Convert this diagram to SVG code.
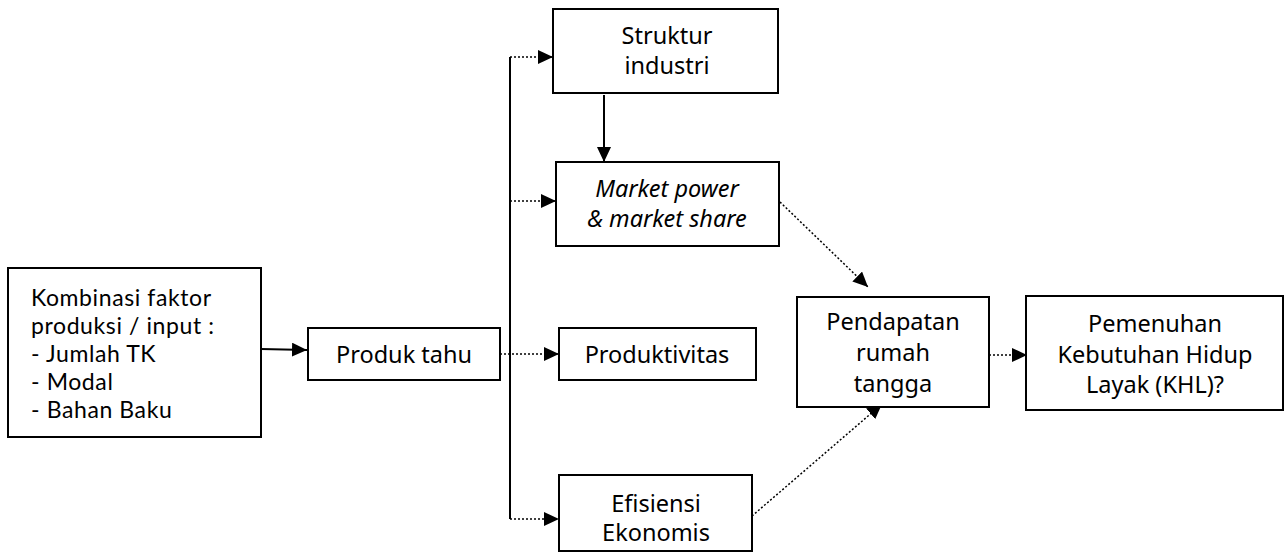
<svg xmlns="http://www.w3.org/2000/svg" width="1288" height="553" viewBox="0 0 1288 553">
<defs>
<marker id="ah" markerWidth="15" markerHeight="14" refX="15" refY="7" orient="auto" markerUnits="userSpaceOnUse">
<path d="M0,0 L15,7 L0,14 Z" fill="#000"/>
</marker>
<style>
.box{fill:#fff;stroke:#000;stroke-width:2}
.t{font-family:"Noto Sans","Open Sans",sans-serif;font-size:23.5px;fill:#000}
.s{font-family:Lato,"Noto Sans",sans-serif;font-size:23px;letter-spacing:0.6px}
.c{text-anchor:middle}
.i{font-style:italic}
.solid{fill:none;stroke:#000;stroke-width:2}
.dot{fill:none;stroke:#000;stroke-width:1.5;stroke-dasharray:2 2}
</style>
</defs>
<g id="connectors">
<line class="solid" x1="510" y1="57" x2="510" y2="519"/>
<line class="solid" x1="261" y1="349" x2="307" y2="350" marker-end="url(#ah)"/>
<line class="solid" x1="604" y1="95" x2="604" y2="162" marker-end="url(#ah)"/>
<line class="dot" x1="510" y1="57" x2="553" y2="57" marker-end="url(#ah)"/>
<line class="dot" x1="510" y1="201" x2="556" y2="201" marker-end="url(#ah)"/>
<line class="dot" x1="500" y1="354" x2="559" y2="354" marker-end="url(#ah)"/>
<line class="dot" x1="510" y1="519" x2="559" y2="519" marker-end="url(#ah)"/>
<line class="dot" x1="780" y1="202" x2="868" y2="287" marker-end="url(#ah)"/>
<line class="dot" x1="752" y1="516" x2="882" y2="404" marker-end="url(#ah)"/>
<line class="dot" x1="989" y1="355" x2="1027" y2="355" marker-end="url(#ah)"/>
</g>
<g id="kombinasi">
<rect class="box" x="8" y="268" width="253" height="169"/>
<text class="t s" x="31" y="306">Kombinasi faktor</text>
<text class="t s" x="31" y="334">produksi / input :</text>
<text class="t s" x="31" y="362">- Jumlah TK</text>
<text class="t s" x="31" y="390">- Modal</text>
<text class="t s" x="31" y="418">- Bahan Baku</text>
</g>
<g id="produk">
<rect class="box" x="308" y="328" width="192" height="52"/>
<text class="t c" x="404" y="363">Produk tahu</text>
</g>
<g id="struktur">
<rect class="box" x="553" y="9" width="225" height="84"/>
<text class="t c" x="667" y="44">Struktur<tspan x="667" dy="30">industri</tspan></text>
</g>
<g id="market">
<rect class="box" x="556" y="162" width="223" height="84"/>
<text class="t c i" x="667" y="197">Market power<tspan x="667" dy="30">&amp; market share</tspan></text>
</g>
<g id="produktivitas">
<rect class="box" x="559" y="328" width="197" height="52"/>
<text class="t c" x="657" y="363">Produktivitas</text>
</g>
<g id="efisiensi">
<rect class="box" x="559" y="475" width="193" height="76"/>
<text class="t c" x="656" y="512">Efisiensi<tspan x="656" dy="29">Ekonomis</tspan></text>
</g>
<g id="pendapatan">
<rect class="box" x="797" y="297" width="192" height="110"/>
<text class="t c" x="893" y="330">Pendapatan<tspan x="893" dy="31">rumah</tspan><tspan x="893" dy="31">tangga</tspan></text>
</g>
<g id="pemenuhan">
<rect class="box" x="1026" y="296" width="257" height="114"/>
<text class="t c" x="1155" y="332">Pemenuhan<tspan x="1155" dy="30.5">Kebutuhan Hidup</tspan><tspan x="1155" dy="30.5">Layak (KHL)?</tspan></text>
</g>
</svg>
